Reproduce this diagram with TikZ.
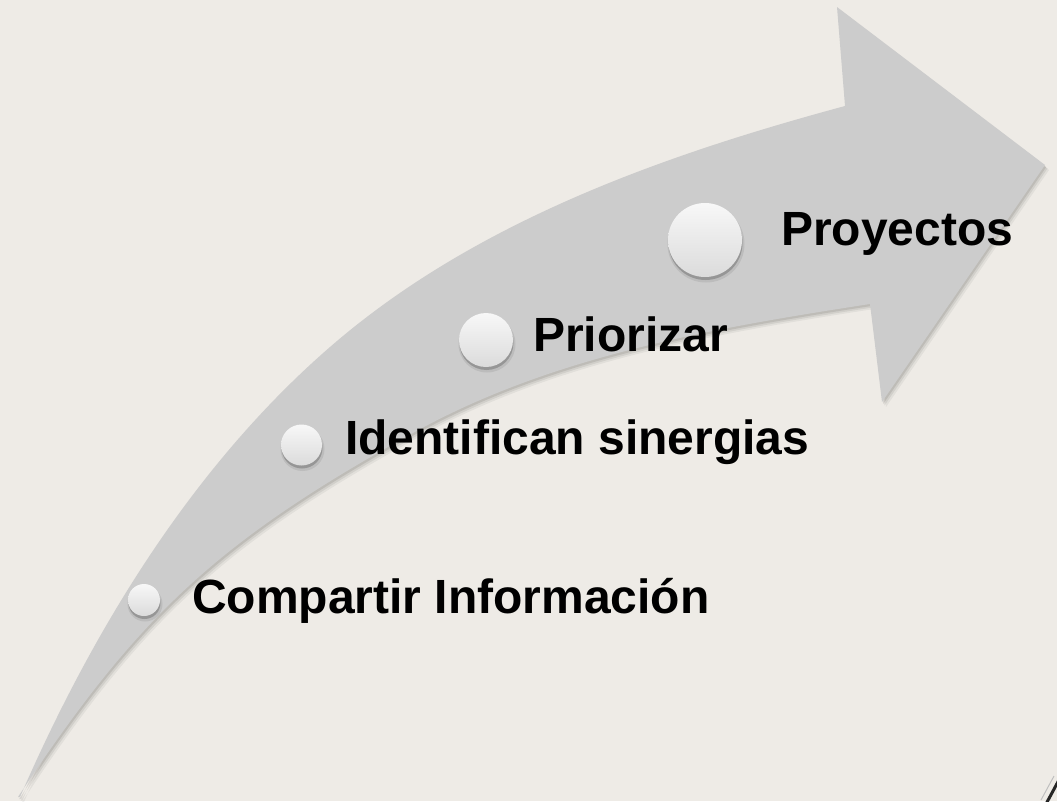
\documentclass[tikz,border=0pt]{standalone}
\usepackage{fontspec}
\setmainfont{Liberation Sans}
\definecolor{bg}{RGB}{238,235,230}
\definecolor{arrowgray}{RGB}{204,204,204}
\newcommand\ArrowFill[1]{%
  \fill[#1] (20,797) .. controls (92.6,630) and (192.5,466.3) .. (330,347)
    .. controls (473.5,222.4) and (661.6,155.5) .. (845,106)
    -- (837,7) -- (1045,165) -- (882,402) -- (870,304)
    .. controls (714,328) and (551,356) .. (413,433)
    .. controls (220.5,539.7) and (139,613.3) .. (18,797)
    -- cycle;}
\newcommand\BallShadow[2]{%
  \fill[black, opacity=.08] (#1) ++(1,4) circle[radius=#2+1.5];
  \fill[black, opacity=.20] (#1) ++(0.5,3) circle[radius=#2];}
\begin{document}
\begin{tikzpicture}[x=1pt,y=-1pt,
  lbl/.style={anchor=base west, inner sep=0pt, font=\fontsize{48}{56}\selectfont\bfseries, text=black},
  ball/.style={circle, inner sep=0pt, draw=none, top color=white!97!black, bottom color=black!14, minimum size=#1},
  ]
  \useasboundingbox (0,0) rectangle (1057,801);
  \fill[bg] (0,0) rectangle (1057,801);
  % arrow with soft shadow
  \ArrowFill{black, opacity=.05, shift={(4,5)}}
  \ArrowFill{black, opacity=.07, shift={(2.5,3.5)}}
  \ArrowFill{black, opacity=.09, shift={(1.2,2)}}
  \ArrowFill{arrowgray}
  % balls
  \BallShadow{144,600}{16}
  \BallShadow{301.5,445}{20.5}
  \BallShadow{486,340}{27}
  \BallShadow{705,240}{37}
  \node[ball=32pt] (c1) at (144,600) {};
  \node[ball=41pt] (c2) at (301.5,445) {};
  \node[ball=54pt] (c3) at (486,340) {};
  \node[ball=74pt] (c4) at (705,240) {};
  % labels
  \node[lbl] (t1) at (192,613) {Compartir Información};
  \node[lbl] (t2) at (345,454) {Identifican sinergias};
  \node[lbl] (t3) at (533,351.5) {Priorizar};
  \node[lbl] (t4) at (781,245) {Proyectos};
  % corner mark
  \draw[line width=3pt, black!85] (1060,778) -- (1046,804);
  \draw[line width=1pt, black!25] (1054,776) -- (1041,800);
\end{tikzpicture}
\end{document}
